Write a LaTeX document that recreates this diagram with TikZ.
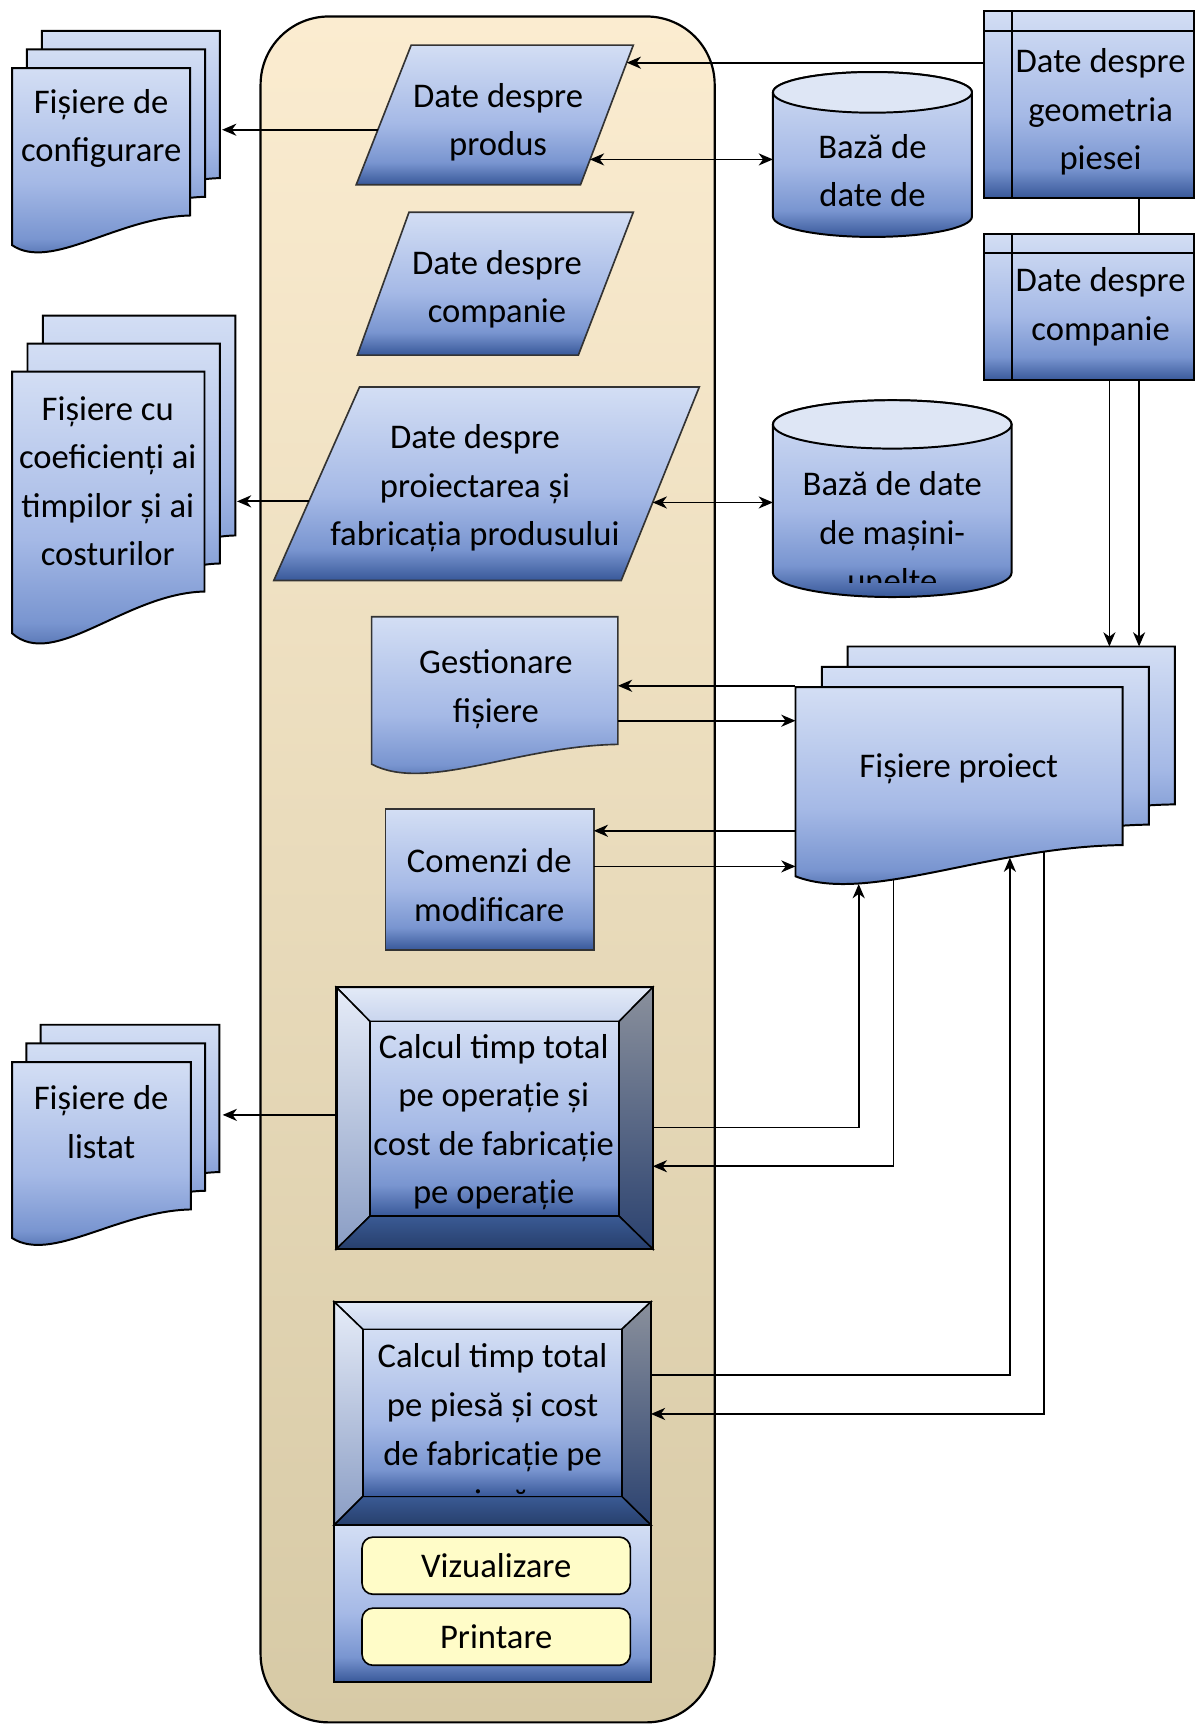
\documentclass[tikz,border=0pt]{standalone}
\usepackage{fontspec}
\setmainfont{Carlito}
\usetikzlibrary{arrows.meta}
\definecolor{B0}{HTML}{D3DEF4}
\definecolor{B1}{HTML}{A5B9E6}
\definecolor{B2}{HTML}{7995D0}
\definecolor{B3}{HTML}{385899}
\definecolor{CT}{HTML}{FBECD0}
\definecolor{CB}{HTML}{D7CAA6}
\definecolor{YL}{HTML}{FFFCC8}
\definecolor{BvTopA}{HTML}{E3EAF7}
\definecolor{BvTopB}{HTML}{C9D5EE}
\definecolor{BvLA}{HTML}{E6ECF8}
\definecolor{BvLB}{HTML}{8A9DC4}
\definecolor{BvRA}{HTML}{8A909C}
\definecolor{BvRB}{HTML}{2B4270}
\definecolor{BvBA}{HTML}{3A5A94}
\definecolor{BvBB}{HTML}{273F6C}
\definecolor{CylTop}{HTML}{DEE6F5}
\pgfdeclareverticalshading{docblue}{100bp}{color(0bp)=(B3); color(25bp)=(B3); color(33bp)=(B2); color(47bp)=(B1); color(75bp)=(B0); color(100bp)=(B0)}
% #1 style, #2 L, #3 T, #4 R, #5 yR, #6 yL, #7 depth
\newcommand\docpage[7]{\path[#1] (#2,#3) -- (#4,#3) -- (#4,#5) .. controls ({#2+0.59*(#4-#2)},{#5+1.5}) and ({#2+0.22*(#4-#2)},{#6+#7}) .. (#2,#6) -- cycle;}
% bevel box: ol ot or ob il it ir ib
\newcommand\bevelbox[8]{%
 \path[draw=black,line width=1.4pt,top color=BvTopA,bottom color=BvTopB] (#1,#2) -- (#3,#2) -- (#7,#6) -- (#5,#6) -- cycle;
 \path[draw=black,line width=1.4pt,top color=BvLA,bottom color=BvLB] (#1,#2) -- (#5,#6) -- (#5,#8) -- (#1,#4) -- cycle;
 \path[draw=black,line width=1.4pt,top color=BvRA,bottom color=BvRB] (#3,#2) -- (#3,#4) -- (#7,#8) -- (#7,#6) -- cycle;
 \path[draw=black,line width=1.4pt,top color=BvBA,bottom color=BvBB] (#1,#4) -- (#3,#4) -- (#7,#8) -- (#5,#8) -- cycle;
 \path[draw=black,line width=1.4pt,shade,shading=docblue] (#5,#6) rectangle (#7,#8);
 \draw[line width=2pt] (#1,#2) rectangle (#3,#4);}
\begin{document}
\begin{tikzpicture}[x=1bp,y=-1bp,
  >={Stealth[length=13pt,width=11pt,inset=4pt]},
  conn/.style={line width=1.6pt,draw=black},
  docfill/.style={draw=black,line width=1.8pt,shade,shading=docblue},
  para/.style={draw=black!80,line width=1.5pt,shade,shading=docblue},
  txt/.style={font=\fontsize{31.6}{44.3}\selectfont,align=center,inner sep=0pt},
  yelbox/.style={draw=black,line width=1.5pt,fill=YL,rounded corners=10pt,minimum width=244bp,minimum height=52bp,txt}]
\useasboundingbox (0,0) rectangle (1087,1568);
\fill[white] (0,0) rectangle (1087,1568);

% container
\path[draw=black,line width=2pt,top color=CT,bottom color=CB,rounded corners=62bp] (237,15) rectangle (650,1566.5);

% left document stacks
\docpage{docfill}{38}{28}{200}{162}{189}{24}
\docpage{docfill}{24.5}{45}{186.5}{179}{206}{24}
\docpage{docfill}{11}{62}{173}{196}{223}{24}
\node[txt] (tconf) at (92,117) {Fișiere de\\configurare};

\docpage{docfill}{39}{287}{214}{487}{525}{34}
\docpage{docfill}{25}{312.5}{200}{512.5}{550.5}{34}
\docpage{docfill}{11}{338}{186}{538}{576}{34}
\node[txt] (tcoef) at (98,437.5) {Fișiere cu\\coeficienți ai\\timpilor și ai\\costurilor};

\docpage{docfill}{37}{932}{199.5}{1066}{1092}{23}
\docpage{docfill}{24}{949}{186.5}{1083}{1109}{23}
\docpage{docfill}{11}{966}{173.5}{1100}{1126}{23}
\node[txt] (tlist) at (92,1020.5) {Fișiere de\\listat};

% project files stack
\docpage{docfill}{771}{588}{1068.5}{731.6}{760}{25.6}
\docpage{docfill}{747.5}{606.5}{1045}{750}{778.5}{25.6}
\docpage{docfill}{723.5}{625}{1021}{768.6}{797}{25.6}
\node[txt] (tproj) at (872,699) {Fișiere proiect};

% parallelograms
\path[para] (374,41) -- (576,41) -- (528,168) -- (324,168) -- cycle;
\node[txt] (tprod) at (453,111) {Date despre\\produs};
\path[para] (372,193) -- (576,193) -- (526,323) -- (325,323) -- cycle;
\node[txt] (tcomp) at (452,263) {Date despre\\companie};
\path[para] (327,352) -- (636,352) -- (565,528) -- (249,528) -- cycle;
\node[txt] (tpf) at (432,444) {Date despre\\proiectarea și\\fabricația produsului};

% Gestionare / Comenzi
\docpage{para}{338}{561}{562}{677}{695}{26}
\node[txt] (tgest) at (451,627) {Gestionare\\fișiere};
\path[para] (350.7,736) rectangle (540,864);
\node[txt] (tcom) at (445,805) {Comenzi de\\modificare};

% cylinders
\path[docfill] (703,84) -- (703,197) .. controls (703,207.2) and (743.5,215.5) .. (793.5,215.5) .. controls (843.5,215.5) and (884,207.2) .. (884,197) -- (884,84) .. controls (884,73.8) and (843.5,65.5) .. (793.5,65.5) .. controls (743.5,65.5) and (703,73.8) .. (703,84) -- cycle;
\path[draw=black,line width=1.8pt,fill=CylTop] (793.5,84) ellipse [x radius=90.5,y radius=18.5];
\node[txt] (tcyl1) at (793.5,155) {Bază de\\date de};

\path[docfill] (703,386) -- (703,521) .. controls (703,533.15) and (751.6,543) .. (811.5,543) .. controls (871.4,543) and (920,533.15) .. (920,521) -- (920,386) .. controls (920,373.85) and (871.4,364) .. (811.5,364) .. controls (751.6,364) and (703,373.85) .. (703,386) -- cycle;
\path[draw=black,line width=1.8pt,fill=CylTop] (811.5,386) ellipse [x radius=108.5,y radius=22];
\begin{scope}
\clip (703,405) rectangle (920,530);
\node[txt] (tcyl2) at (811.5,484) {Bază de date\\de mașini-\\unelte};
\end{scope}

% right storage boxes
\path[docfill] (895,10) rectangle (1086,180);
\draw[line width=1.8pt] (920,10) -- (920,180) (895,28) -- (1086,28);
\node[txt] (tgeo) at (1001,102) {Date despre\\geometria\\piesei};
\path[docfill] (895,213) rectangle (1086,346);
\draw[line width=1.8pt] (920,213) -- (920,346) (895,230) -- (1086,230);
\node[txt] (tcomp2) at (1001,279) {Date despre\\companie};

% calcul boxes
\bevelbox{306}{898}{593.7}{1136}{336.5}{929}{563}{1106}
\node[txt] (tcalc1) at (449,1020.5) {Calcul timp total\\pe operație și\\cost de fabricație\\pe operație};

\path[draw=black,line width=2pt,shade,shading=docblue] (304,1387) rectangle (592,1530);
\bevelbox{304}{1184}{592}{1387}{330}{1209}{565.5}{1361}
\begin{scope}
\clip (330,1209) rectangle (565.5,1359.5);
\node[txt] (tcalc2) at (448,1302) {Calcul timp total\\pe piesă și cost\\de fabricație pe\\piesă};
\end{scope}
\node[yelbox] (viz) at (451.3,1424) {Vizualizare};
\node[yelbox] (prt) at (451.3,1488.6) {Printare};

% connector end points
\coordinate (geoW) at (895,57);
\coordinate (p1NE) at (570,57);
\coordinate (p1E) at (536.5,145);
\coordinate (cy1W) at (703,145);
\coordinate (p1W) at (343.7,118);
\coordinate (confE) at (202,118);
\coordinate (p3W) at (281,456);
\coordinate (coefE) at (215.5,456);
\coordinate (p3E) at (593.6,457);
\coordinate (cy2W) at (703,457);
\coordinate (geoS) at (1036,180);
\coordinate (comp2N) at (1036,213);
\coordinate (c2a) at (1009,346);
\coordinate (pra) at (1009,588);
\coordinate (c2b) at (1036,346);
\coordinate (prb) at (1036,588);
\coordinate (prW1) at (723.5,623.7);
\coordinate (gestE1) at (562,623.7);
\coordinate (gestE2) at (562,655.5);
\coordinate (prW2) at (723.5,655.5);
\coordinate (prW3) at (723.5,755.6);
\coordinate (comE1) at (540,755.6);
\coordinate (comE2) at (540,788);
\coordinate (prW4) at (723.5,788);
\coordinate (c1E1) at (593.7,1025.4);
\coordinate (prS1) at (781,804);
\coordinate (prS2) at (812.7,800.5);
\coordinate (c1E2) at (593.7,1060.7);
\coordinate (c2E1) at (592,1250.3);
\coordinate (prS3) at (918.5,780);
\coordinate (prS4) at (949.6,775);
\coordinate (c2E2) at (592,1286);
\coordinate (c1W) at (306,1014);
\coordinate (listE) at (202.5,1014);

% connectors
\draw[conn,->] (geoW) -- (p1NE);
\draw[conn,<->] (p1E) -- (cy1W);
\draw[conn,->] (p1W) -- (confE);
\draw[conn,->] (p3W) -- (coefE);
\draw[conn,<->] (p3E) -- (cy2W);
\draw[conn] (geoS) -- (comp2N);
\draw[conn,->] (c2a) -- (pra);
\draw[conn,->] (c2b) -- (prb);
\draw[conn,->] (prW1) -- (gestE1);
\draw[conn,->] (gestE2) -- (prW2);
\draw[conn,->] (prW3) -- (comE1);
\draw[conn,->] (comE2) -- (prW4);
\draw[conn,->] (c1E1) -| (prS1);
\draw[conn,->] (prS2) |- (c1E2);
\draw[conn,->] (c2E1) -| (prS3);
\draw[conn,->] (prS4) |- (c2E2);
\draw[conn,->] (c1W) -- (listE);
\end{tikzpicture}
\end{document}
